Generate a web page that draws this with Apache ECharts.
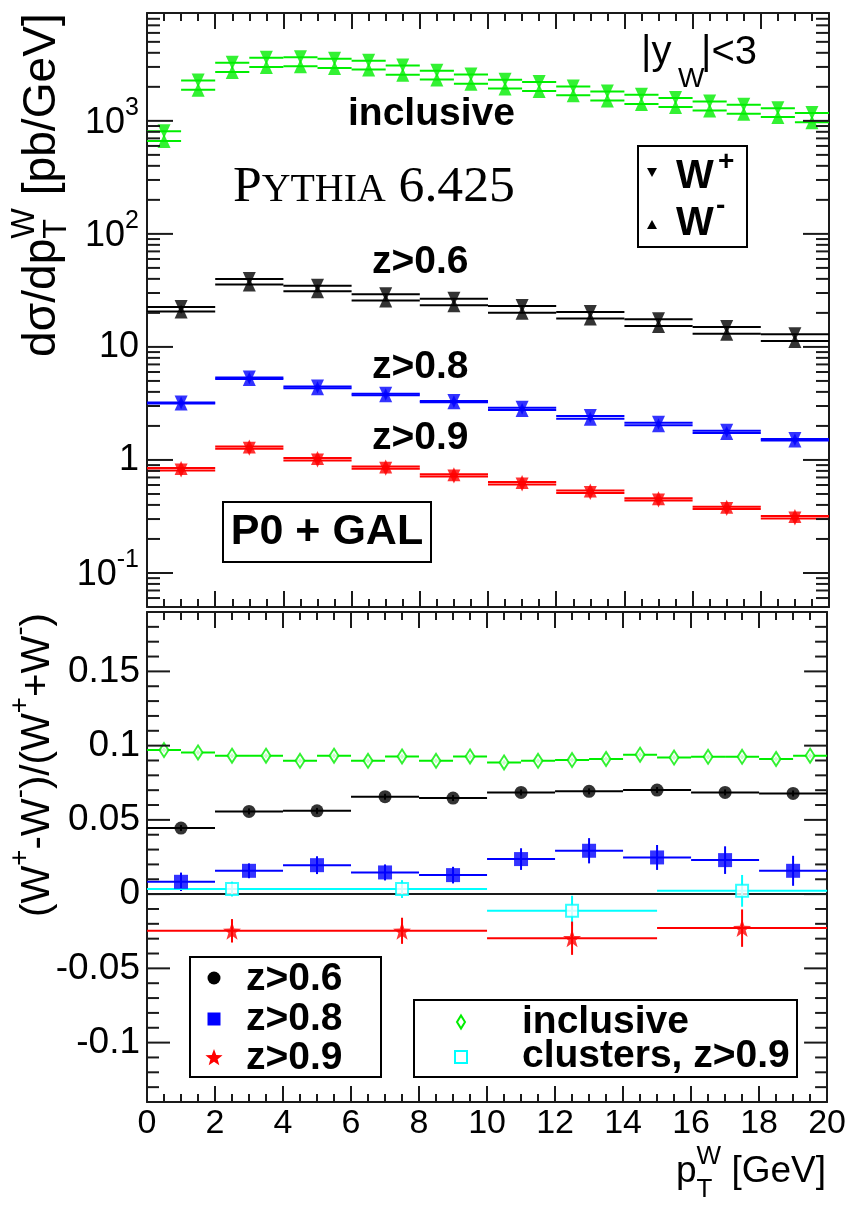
<!DOCTYPE html>
<html><head><meta charset="utf-8">
<script src="https://cdn.jsdelivr.net/npm/echarts@6/dist/echarts.min.js"></script>
<style>html,body{margin:0;padding:0;background:#fff}#c{width:849px;height:1208px}</style>
</head><body><div id="c"></div>
<script>
// ---------------- DATA ----------------
// top panel: d sigma / d pT (pb/GeV), W+ (down triangles) and W- (up triangles)
const inclCenters = [0.5,1.5,2.5,3.5,4.5,5.5,6.5,7.5,8.5,9.5,10.5,11.5,12.5,13.5,14.5,15.5,16.5,17.5,18.5,19.5];
const inclWplus  = [808,2276,3263,3611,3649,3538,3406,3086,2775,2566,2306,2202,2014,1820,1705,1591,1486,1387,1296,1172];
const inclWminus = [665,1881,2707,2996,3046,2936,2844,2561,2317,2129,1929,1838,1681,1516,1412,1323,1236,1154,1080,973];
const zCenters = [1,3,5,7,9,11,13,15,17,19];
const z6Wplus  = [22.5,39.9,34.8,29.3,26.7,23.0,20.4,17.6,15.0,12.95];
const z6Wminus = [20.6,35.7,31.1,25.7,23.4,20.1,17.8,15.3,13.07,11.3];
const z8Wplus  = [3.216,5.363,4.476,3.845,3.322,2.897,2.449,2.131,1.811,1.534];
const z8Wminus = [3.164,5.197,4.304,3.735,3.238,2.763,2.311,2.029,1.729,1.486];
const z9Wplus  = [0.805,1.253,0.989,0.834,0.713,0.606,0.510,0.437,0.368,0.303];
const z9Wminus = [0.847,1.317,1.039,0.876,0.749,0.637,0.536,0.459,0.386,0.319];

// bottom panel: asymmetry (W+ - W-)/(W+ + W-)
const inclAsym    = [0.097,0.0954,0.0932,0.0932,0.0898,0.0932,0.0898,0.0927,0.0898,0.0927,0.0887,0.0898,0.0903,0.091,0.0939,0.092,0.0925,0.0925,0.091,0.0932];
const inclAsymErr = [0.0015,0.0015,0.0015,0.0015,0.0015,0.0015,0.0015,0.0015,0.0015,0.0015,0.0015,0.0015,0.0015,0.0015,0.0015,0.0015,0.0015,0.0015,0.0015,0.0015];
const z6Asym    = [0.0445,0.0557,0.0561,0.0656,0.0647,0.0685,0.0692,0.0701,0.0685,0.0678];
const z6AsymErr = [0.002,0.002,0.002,0.002,0.002,0.002,0.002,0.002,0.002,0.002];
const z8Asym    = [0.0083,0.0157,0.0195,0.0146,0.0128,0.0236,0.0292,0.0247,0.0229,0.0157];
const z8AsymErr = [0.0062,0.005,0.006,0.0054,0.0056,0.0073,0.0085,0.0084,0.0093,0.0101];
const wideCenters = [2.5,7.5,12.5,17.5];
const z9Asym    = [-0.0247,-0.0247,-0.0297,-0.0229];
const z9AsymErr = [0.0079,0.0088,0.0112,0.0126];
const clAsym    = [0.0034,0.0034,-0.0112,0.0022];
const clAsymErr = [0.005,0.006,0.0101,0.0107];

// tick labels
const topTickValues = [0.1,1,10,100,1000];
const topTickBase   = ['10','1','10','10','10'];
const topTickExp    = ['-1','','','2','3'];
const botTickValues = [-0.1,-0.05,0,0.05,0.1,0.15];
const botTickLabels = ['-0.1','-0.05','0','0.05','0.1','0.15'];

// ---------------- STYLE ----------------
const FONT = '"Liberation Sans", Arial, Helvetica, sans-serif';
const SERIF = '"Liberation Serif", "DejaVu Serif", serif';
const AX = '#1a1a1a';
const GREEN = '#00ee00', BLUE = '#0000ff', RED = '#ff0000', CYAN = '#00ffff', BLACK = '#000000';
const STAR = 'path://M0,-10 L2.35,-3.24 L9.51,-3.09 L3.8,1.24 L5.88,8.09 L0,4 L-5.88,8.09 L-3.8,1.24 L-9.51,-3.09 L-2.35,-3.24 Z';
const TRI = [13, 14];

const mctx = document.createElement('canvas').getContext('2d');
function measure(t, size, weight, fam) { mctx.font = (weight || 'normal') + ' ' + size + 'px ' + (fam || FONT); return mctx.measureText(t).width; }

// ---------------- SERIES HELPERS ----------------
function binSeries(xi, yi, centers, vals, half, color, lw, z, errs) {
  return {
    type: 'custom', xAxisIndex: xi, yAxisIndex: yi, silent: true, clip: true, z: z,
    data: centers.map((c, i) => [c, vals[i], half, errs ? errs[i] : 0]),
    renderItem: function (params, api) {
      const c = api.value(0), v = api.value(1), h = api.value(2), e = api.value(3);
      const a = api.coord([c - h, v]), b = api.coord([c + h, v]);
      const ch = [{ type: 'line', shape: { x1: a[0], y1: a[1], x2: b[0], y2: b[1] }, style: { stroke: color, lineWidth: lw } }];
      if (e > 0) {
        const t = api.coord([c, v + e]), u = api.coord([c, v - e]);
        ch.push({ type: 'line', shape: { x1: t[0], y1: t[1], x2: u[0], y2: u[1] }, style: { stroke: color, lineWidth: lw } });
      }
      return { type: 'group', children: ch };
    }
  };
}
function markers(xi, yi, centers, vals, symbol, size, itemStyle, z, rot) {
  return { type: 'scatter', xAxisIndex: xi, yAxisIndex: yi, silent: true, z: z, symbol: symbol, symbolSize: size,
    symbolRotate: rot || 0, itemStyle: itemStyle, data: centers.map((c, i) => [c, vals[i]]) };
}
function tickSeries(xi, yi, data, majLen, minLen) {
  return {
    type: 'custom', xAxisIndex: xi, yAxisIndex: yi, silent: true, clip: false, z: 20, data: data,
    renderItem: function (params, api) {
      const v = api.value(1), maj = api.value(2);
      const L = api.coord([0, v]), R = api.coord([20, v]);
      const len = maj ? majLen : minLen;
      return { type: 'group', children: [
        { type: 'line', shape: { x1: L[0], y1: L[1], x2: L[0] + len, y2: L[1] }, style: { stroke: AX, lineWidth: 2 } },
        { type: 'line', shape: { x1: R[0] - len, y1: R[1], x2: R[0], y2: R[1] }, style: { stroke: AX, lineWidth: 2 } }
      ] };
    }
  };
}
function txtEl(x, y, text, size, o) {
  o = o || {};
  return { type: 'text', x: x, y: y, rotation: o.rot || 0, z: 100,
    style: { text: text, fontSize: size, fontFamily: o.fam || FONT, fontWeight: o.w || 'normal', fill: o.color || '#000',
      align: o.align || 'left', textAlign: o.align || 'left', verticalAlign: o.va || 'middle', textVerticalAlign: o.va || 'middle' } };
}

// tick data
const topTickData = [];
topTickValues.forEach(v => topTickData.push([0, v, 1]));
[0.01, 0.1, 1, 10, 100, 1000].forEach(d => { for (let k = 2; k <= 9; k++) { const v = k * d; if (v >= 0.05 && v <= 9000) topTickData.push([0, v, 0]); } });
const botTickData = [];
for (let i = -14; i <= 19; i++) { botTickData.push([0, i / 100, i % 5 === 0 ? 1 : 0]); }

const series = [];
series.push(tickSeries(0, 0, topTickData, 26, 13));
series.push(tickSeries(2, 2, botTickData, 23, 12));
series.push({
  type: 'custom', xAxisIndex: 0, yAxisIndex: 0, silent: true, clip: false, z: 20,
  data: topTickValues.map((v, i) => [0, v, i]),
  renderItem: function (params, api) {
    const i = params.dataIndex; const L = api.coord([0, api.value(1)]);
    const xe = L[0] - 8; const exp = topTickExp[i];
    if (!exp) return txtEl(xe, L[1], topTickBase[i], 36, { align: 'right' });
    const sw = measure(exp, 25);
    return { type: 'group', children: [
      txtEl(xe - sw, L[1] + 2, topTickBase[i], 36, { align: 'right' }),
      txtEl(xe - sw, L[1] - 13, exp, 25, { align: 'left' })
    ] };
  }
});
series.push({
  type: 'custom', xAxisIndex: 2, yAxisIndex: 2, silent: true, clip: false, z: 20,
  data: botTickValues.map((v, i) => [0, v, i]),
  renderItem: function (params, api) {
    const L = api.coord([0, api.value(1)]);
    return txtEl(L[0] - 7, L[1], botTickLabels[params.dataIndex], 37, { align: 'right' });
  }
});

// top panel data
series.push(binSeries(0, 0, inclCenters, inclWplus, 0.5, GREEN, 2, 5));
series.push(binSeries(0, 0, inclCenters, inclWminus, 0.5, GREEN, 2, 5));
series.push(binSeries(0, 0, zCenters, z6Wplus, 1, BLACK, 2, 5));
series.push(binSeries(0, 0, zCenters, z6Wminus, 1, BLACK, 2, 5));
series.push(binSeries(0, 0, zCenters, z8Wplus, 1, BLUE, 2, 5));
series.push(binSeries(0, 0, zCenters, z8Wminus, 1, BLUE, 2, 5));
series.push(binSeries(0, 0, zCenters, z9Wplus, 1, RED, 2, 5));
series.push(binSeries(0, 0, zCenters, z9Wminus, 1, RED, 2, 5));
[[inclCenters, inclWplus, inclWminus, GREEN], [zCenters, z6Wplus, z6Wminus, BLACK], [zCenters, z8Wplus, z8Wminus, BLUE], [zCenters, z9Wplus, z9Wminus, RED]].forEach(s => {
  series.push(markers(0, 0, s[0], s[1], 'triangle', TRI, { color: s[3] }, 8, 180));
  series.push(markers(0, 0, s[0], s[2], 'triangle', TRI, { color: s[3] }, 8, 0));
});

// bottom panel
series.push({ type: 'line', xAxisIndex: 2, yAxisIndex: 2, silent: true, z: 3, symbol: 'none', data: [[0, 0], [20, 0]], lineStyle: { color: AX, width: 2 } });
series.push(binSeries(2, 2, inclCenters, inclAsym, 0.5, GREEN, 2, 5, inclAsymErr));
series.push(binSeries(2, 2, zCenters, z6Asym, 1, BLACK, 2, 5, z6AsymErr));
series.push(binSeries(2, 2, zCenters, z8Asym, 1, BLUE, 2, 5, z8AsymErr));
series.push(binSeries(2, 2, wideCenters, clAsym, 2.5, CYAN, 2, 5, clAsymErr));
series.push(binSeries(2, 2, wideCenters, z9Asym, 2.5, RED, 2, 5, z9AsymErr));
series.push(markers(2, 2, inclCenters, inclAsym, 'diamond', [9, 14], { color: '#fff', borderColor: GREEN, borderWidth: 2 }, 8));
series.push(markers(2, 2, zCenters, z6Asym, 'circle', 13, { color: BLACK }, 8));
series.push(markers(2, 2, zCenters, z8Asym, 'rect', 14, { color: BLUE }, 8));
series.push(markers(2, 2, wideCenters, clAsym, 'rect', 12, { color: '#fff', borderColor: CYAN, borderWidth: 2 }, 8));
series.push(markers(2, 2, wideCenters, z9Asym, STAR, 18, { color: RED }, 8));

// ---------------- AXES ----------------
function xAx(grid, pos, labels) {
  return { gridIndex: grid, type: 'value', min: 0, max: 20, interval: 2, position: pos,
    axisLine: { show: true, onZero: false, lineStyle: { color: AX, width: 2 } },
    axisTick: { show: true, inside: true, length: 16, lineStyle: { color: AX, width: 2 } },
    minorTick: { show: true, splitNumber: 4, length: 8, lineStyle: { color: AX, width: 2 } },
    axisLabel: { show: labels, fontSize: 34, fontFamily: FONT, color: '#000', margin: 5 },
    splitLine: { show: false }, minorSplitLine: { show: false } };
}
function yAx(grid, pos, log) {
  const a = { gridIndex: grid, position: pos,
    axisLine: { show: true, onZero: false, lineStyle: { color: AX, width: 2 } },
    axisTick: { show: false }, minorTick: { show: false }, axisLabel: { show: false }, splitLine: { show: false } };
  if (log) { a.type = 'log'; a.logBase = 10; a.min = 0.05; a.max = 9000; }
  else { a.type = 'value'; a.min = -0.14; a.max = 0.19; }
  return a;
}

// ---------------- ANNOTATIONS ----------------
const graphics = [];
function runLayout(pieces, k, fam) {
  let pos = 0, pend = 0; const res = [];
  pieces.forEach(p => {
    const s = p.s * k; const w = measure(p.t, s, p.w, fam);
    res.push({ t: p.t, s: s, w: p.w, off: pos, d: (p.d || 0) * k });
    if (p.stack) pend = Math.max(pend, w); else { pos += Math.max(pend, w); pend = 0; }
  });
  return { res: res, len: pos };
}
function fitRun(pieces, target, fam) { const L = runLayout(pieces, 1, fam).len; return runLayout(pieces, target / L, fam); }

// y title top (rotated)
fitRun([{ t: 'dσ/dp', s: 40 }, { t: 'T', s: 28, d: 13, stack: true }, { t: 'W', s: 28, d: -15 }, { t: ' [pb/GeV]', s: 40 }], 344).res
  .forEach(r => graphics.push(txtEl(42 + r.d, 357 - r.off, r.t, r.s, { rot: Math.PI / 2 })));
// y title bottom (rotated)
fitRun([{ t: '(W', s: 38 }, { t: '+', s: 26, d: -17 }, { t: '-W', s: 38 }, { t: '-', s: 26, d: -17 }, { t: ')/(W', s: 38 },
        { t: '+', s: 26, d: -17 }, { t: '+W', s: 38 }, { t: '-', s: 26, d: -17 }, { t: ')', s: 38 }], 304).res
  .forEach(r => graphics.push(txtEl(38 + r.d, 917 - r.off, r.t, r.s, { rot: Math.PI / 2 })));
// x title, right aligned at 826
(function () {
  const run = runLayout([{ t: 'p', s: 37 }, { t: 'T', s: 26, d: 18, stack: true }, { t: 'W', s: 26, d: -15 }, { t: ' [GeV]', s: 37 }], 1);
  const x0 = 826 - run.len;
  run.res.forEach(r => graphics.push(txtEl(x0 + r.off, 1172 + r.d, r.t, r.s)));
})();
// Pythia label (small caps)
fitRun([{ t: 'P', s: 48 }, { t: 'YTHIA', s: 37 }, { t: ' 6.425', s: 48 }], 282, SERIF).res
  .forEach(r => graphics.push(txtEl(233 + r.off, 203 - 0.305 * r.s, r.t, r.s, { fam: SERIF })));
// |y_W|<3
graphics.push(txtEl(641, 53, '|y', 40));
graphics.push(txtEl(678, 79, 'W', 28));
graphics.push(txtEl(701, 53, '|<3', 40));
// inclusive, z labels
graphics.push(txtEl(348, 114, 'inclusive', 39, { w: 'bold' }));
graphics.push(txtEl(372, 262, 'z>0.6', 39, { w: 'bold' }));
graphics.push(txtEl(372, 367, 'z>0.8', 39, { w: 'bold' }));
graphics.push(txtEl(372, 438, 'z>0.9', 39, { w: 'bold' }));
// P0 + GAL box
graphics.push({ type: 'rect', z: 99, shape: { x: 223, y: 502, width: 208, height: 60 }, style: { fill: '#fff', stroke: '#000', lineWidth: 2 } });
graphics.push(txtEl(327, 532, 'P0 + GAL', 43, { w: 'bold', align: 'center' }));
// W+/W- legend
graphics.push({ type: 'rect', z: 99, shape: { x: 638, y: 146, width: 109, height: 101 }, style: { fill: '#fff', stroke: '#000', lineWidth: 2 } });
graphics.push({ type: 'polygon', z: 100, shape: { points: [[647, 168], [657, 168], [652, 177]] }, style: { fill: '#000' } });
graphics.push({ type: 'polygon', z: 100, shape: { points: [[647, 229], [657, 229], [652, 220]] }, style: { fill: '#000' } });
graphics.push(txtEl(676, 177, 'W', 40, { w: 'bold' }));
graphics.push(txtEl(718, 162, '+', 28, { w: 'bold' }));
graphics.push(txtEl(676, 224, 'W', 40, { w: 'bold' }));
graphics.push(txtEl(716, 206, '-', 28, { w: 'bold' }));
// bottom-left legend
graphics.push({ type: 'rect', z: 99, shape: { x: 190, y: 957, width: 191, height: 120 }, style: { fill: '#fff', stroke: '#000', lineWidth: 2 } });
graphics.push({ type: 'circle', z: 100, shape: { cx: 214, cy: 978, r: 6.5 }, style: { fill: BLACK } });
graphics.push({ type: 'rect', z: 100, shape: { x: 207.5, y: 1012.5, width: 13, height: 13 }, style: { fill: BLUE } });
(function () {
  const pts = []; for (let i = 0; i < 10; i++) { const a = -Math.PI / 2 + i * Math.PI / 5; const r = i % 2 ? 3.8 : 9; pts.push([214 + r * Math.cos(a), 1058 + r * Math.sin(a)]); }
  graphics.push({ type: 'polygon', z: 100, shape: { points: pts }, style: { fill: RED } });
})();
graphics.push(txtEl(246, 979, 'z>0.6', 39, { w: 'bold' }));
graphics.push(txtEl(246, 1019, 'z>0.8', 39, { w: 'bold' }));
graphics.push(txtEl(246, 1058, 'z>0.9', 39, { w: 'bold' }));
// bottom-right legend
graphics.push({ type: 'rect', z: 99, shape: { x: 414, y: 1000, width: 383, height: 77 }, style: { fill: '#fff', stroke: '#000', lineWidth: 2 } });
graphics.push({ type: 'polygon', z: 100, shape: { points: [[461, 1015.5], [465, 1022], [461, 1028.5], [457, 1022]] }, style: { fill: '#fff', stroke: GREEN, lineWidth: 2 } });
graphics.push({ type: 'rect', z: 100, shape: { x: 455, y: 1051, width: 12, height: 12 }, style: { fill: '#fff', stroke: CYAN, lineWidth: 2 } });
graphics.push(txtEl(522, 1022, 'inclusive', 39, { w: 'bold' }));
graphics.push(txtEl(522, 1056, 'clusters, z>0.9', 39, { w: 'bold' }));

// ---------------- CHART ----------------
const chart = echarts.init(document.getElementById('c'), null, { renderer: 'canvas' });
chart.setOption({
  animation: false,
  backgroundColor: '#fff',
  grid: [
    { left: 147, top: 13, width: 682, height: 594, containLabel: false },
    { left: 147, top: 612, width: 682, height: 490, containLabel: false }
  ],
  xAxis: [xAx(0, 'bottom', false), xAx(0, 'top', false), xAx(1, 'bottom', true), xAx(1, 'top', false)],
  yAxis: [yAx(0, 'left', true), yAx(0, 'right', true), yAx(1, 'left', false), yAx(1, 'right', false)],
  series: series,
  graphic: { elements: graphics }
});
</script>
</body></html>
